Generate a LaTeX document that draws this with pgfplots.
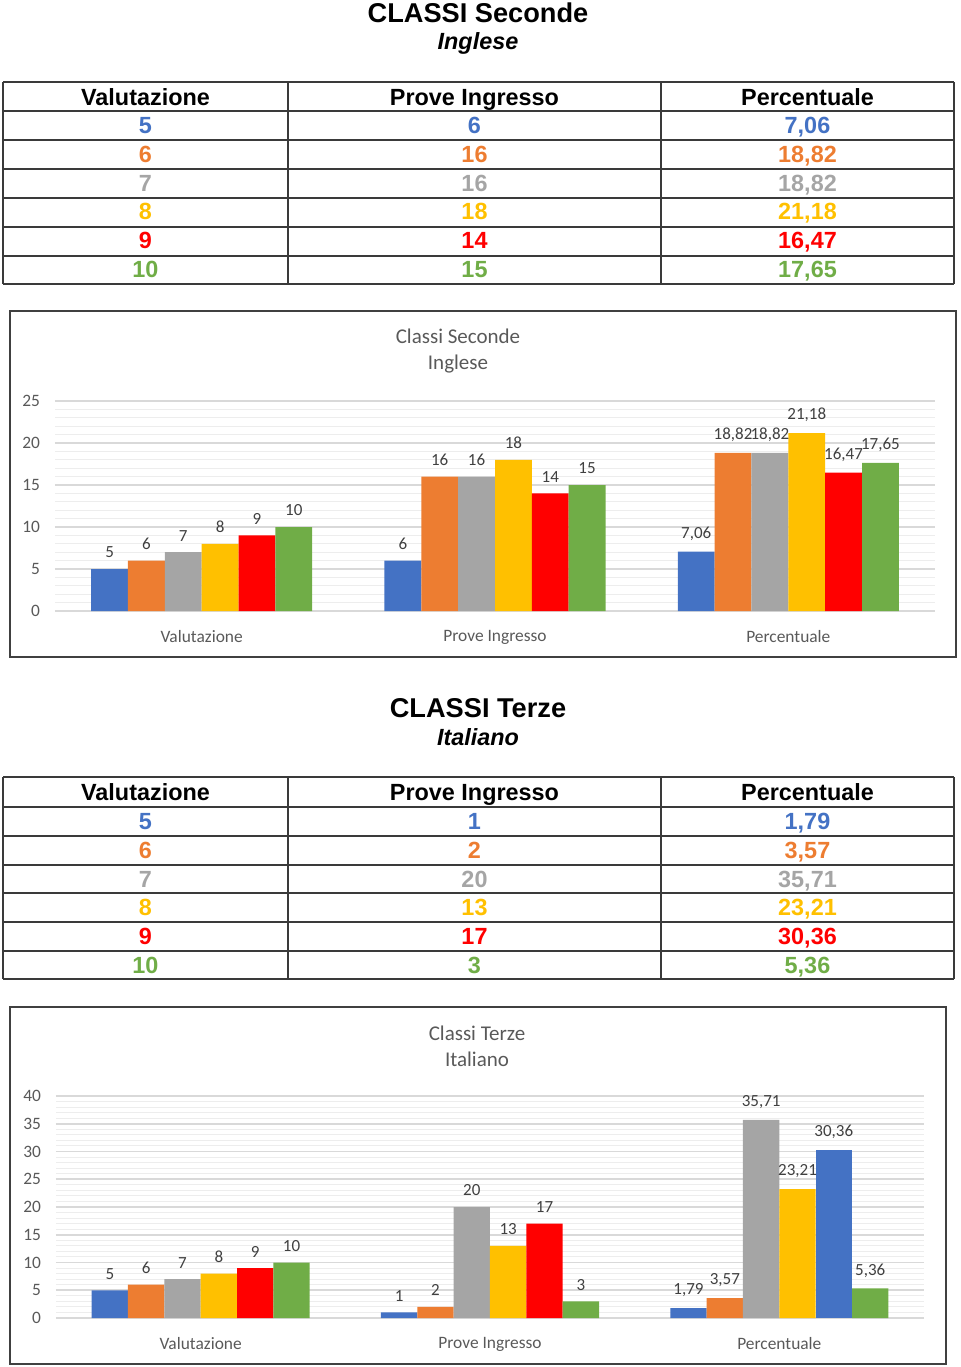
\documentclass[border=0pt]{standalone}
\usepackage{pgfplots}
\pgfplotsset{compat=1.18}
\usepackage{fontspec}
\setmainfont{Carlito}
\newfontfamily\arialf{Liberation Sans}
\definecolor{cB}{HTML}{4472C4}
\definecolor{cO}{HTML}{ED7D31}
\definecolor{cG}{HTML}{A5A5A5}
\definecolor{cY}{HTML}{FFC000}
\definecolor{cR}{HTML}{FF0000}
\definecolor{cV}{HTML}{70AD47}
\definecolor{txt}{HTML}{595959}
\definecolor{lbl}{HTML}{404040}
\definecolor{gridc}{HTML}{D9D9D9}
\definecolor{mgridc}{HTML}{EDEDED}
\definecolor{tline}{HTML}{3A3A3A}

\pgfplotsset{
  barchart/.style={
    scale only axis, ybar, bar width=#1, enlargelimits=false,
    xmin=-0.5, xmax=2.5, ymin=0,
    xtick={0,1,2}, xticklabels={Valutazione,Prove Ingresso,Percentuale},
    axis line style={draw=none},
    major tick length=0pt, minor tick length=0pt,
    ymajorgrids, yminorgrids, minor y tick num=4,
    major grid style={color=gridc, line width=0.8pt},
    minor grid style={color=mgridc, line width=0.5pt},
    tick label style={font=\fontsize{8.7}{10}\selectfont, color=txt},
    yticklabel style={xshift=-4pt},
    xticklabel style={yshift=-6pt},
    ytick distance=5,
    nodes near coords,
    every node near coord/.append style={font=\fontsize{8.5}{10}\selectfont, color=lbl, anchor=south, yshift=2pt},
    /pgf/number format/.cd, use comma, fixed, precision=2, 1000 sep={}, assume math mode=true,
  },
}

\newcommand{\tcell}[4]{\node[anchor=base, text=#3, font=\arialf\bfseries\fontsize{11.7}{14}\selectfont] at (#1,#2) {#4};}

\begin{document}
\begin{tikzpicture}
\begin{scope}[x=0.5pt,y=-0.5pt]
\useasboundingbox (0,0) rectangle (960,1367);
% ---------- Titles 1
\node[anchor=base, font=\arialf\bfseries\fontsize{13.6}{16}\selectfont] at (478,22.7) {CLASSI Seconde};
\node[anchor=base, font=\arialf\bfseries\itshape\fontsize{11.7}{14}\selectfont] at (478,49.4) {Inglese};
% ---------- Table 1
\foreach \yy in {82,111,140,169,197.5,226.5,255.5,284} \draw[tline, line width=1pt] (3,\yy) -- (954,\yy);
\foreach \xx in {3,288,661,954} \draw[tline, line width=1pt] (\xx,82) -- (\xx,284);
\tcell{145.5}{105.4}{black}{Valutazione}
\tcell{474.5}{105.4}{black}{Prove Ingresso}
\tcell{807.5}{105.4}{black}{Percentuale}
\tcell{145.5}{133.9}{cB}{5}\tcell{474.5}{133.9}{cB}{6}\tcell{807.5}{133.9}{cB}{7,06}
\tcell{145.5}{162.9}{cO}{6}\tcell{474.5}{162.9}{cO}{16}\tcell{807.5}{162.9}{cO}{18,82}
\tcell{145.5}{191.4}{cG}{7}\tcell{474.5}{191.4}{cG}{16}\tcell{807.5}{191.4}{cG}{18,82}
\tcell{145.5}{219.9}{cY}{8}\tcell{474.5}{219.9}{cY}{18}\tcell{807.5}{219.9}{cY}{21,18}
\tcell{145.5}{248.9}{cR}{9}\tcell{474.5}{248.9}{cR}{14}\tcell{807.5}{248.9}{cR}{16,47}
\tcell{145.5}{277.4}{cV}{10}\tcell{474.5}{277.4}{cV}{15}\tcell{807.5}{277.4}{cV}{17,65}
% ---------- Chart 1 frame and title
\draw[black!75, line width=0.75pt] (10,311) rectangle (956,657);
\node[anchor=base, text=txt, font=\fontsize{10.5}{12}\selectfont] at (458,343.8) {Classi Seconde};
\node[anchor=base, text=txt, font=\fontsize{10.5}{12}\selectfont] at (458,369.8) {Inglese};
% ---------- Titles 2
\node[anchor=base, font=\arialf\bfseries\fontsize{13.6}{16}\selectfont] at (478,717.7) {CLASSI Terze};
\node[anchor=base, font=\arialf\bfseries\itshape\fontsize{11.7}{14}\selectfont] at (478,745.4) {Italiano};
% ---------- Table 2
\foreach \yy in {777,806.5,835.5,864.5,893,922,950.5,979} \draw[tline, line width=1pt] (3,\yy) -- (954,\yy);
\foreach \xx in {3,288,661,954} \draw[tline, line width=1pt] (\xx,777) -- (\xx,979);
\tcell{145.5}{800.4}{black}{Valutazione}
\tcell{474.5}{800.4}{black}{Prove Ingresso}
\tcell{807.5}{800.4}{black}{Percentuale}
\tcell{145.5}{829.4}{cB}{5}\tcell{474.5}{829.4}{cB}{1}\tcell{807.5}{829.4}{cB}{1,79}
\tcell{145.5}{858.4}{cO}{6}\tcell{474.5}{858.4}{cO}{2}\tcell{807.5}{858.4}{cO}{3,57}
\tcell{145.5}{887.4}{cG}{7}\tcell{474.5}{887.4}{cG}{20}\tcell{807.5}{887.4}{cG}{35,71}
\tcell{145.5}{915.9}{cY}{8}\tcell{474.5}{915.9}{cY}{13}\tcell{807.5}{915.9}{cY}{23,21}
\tcell{145.5}{944.4}{cR}{9}\tcell{474.5}{944.4}{cR}{17}\tcell{807.5}{944.4}{cR}{30,36}
\tcell{145.5}{973.4}{cV}{10}\tcell{474.5}{973.4}{cV}{3}\tcell{807.5}{973.4}{cV}{5,36}
% ---------- Chart 2 frame and title
\draw[black!75, line width=0.75pt] (10,1007) rectangle (946,1364);
\node[anchor=base, text=txt, font=\fontsize{10.5}{12}\selectfont] at (477,1040.8) {Classi Terze};
\node[anchor=base, text=txt, font=\fontsize{10.5}{12}\selectfont] at (477,1066.8) {Italiano};
\end{scope}

% ---------- Chart 1
\begin{axis}[barchart=18.42pt, at={(27.5pt,-305.5pt)}, anchor=south west,
  width=440pt, height=105pt, ymax=25]
\addplot[fill=cB, draw=none, bar shift=-46.05pt] coordinates {(0,5) (1,6) (2,7.06)};
\addplot[fill=cO, draw=none, bar shift=-27.63pt] coordinates {(0,6) (1,16) (2,18.82)};
\addplot[fill=cG, draw=none, bar shift=-9.21pt] coordinates {(0,7) (1,16) (2,18.82)};
\addplot[fill=cY, draw=none, bar shift=9.21pt] coordinates {(0,8) (1,18) (2,21.18)};
\addplot[fill=cR, draw=none, bar shift=27.63pt] coordinates {(0,9) (1,14) (2,16.47)};
\addplot[fill=cV, draw=none, bar shift=46.05pt] coordinates {(0,10) (1,15) (2,17.65)};
\end{axis}

% ---------- Chart 2
\begin{axis}[barchart=18.17pt, at={(28pt,-659pt)}, anchor=south west,
  width=434pt, height=111pt, ymax=40]
\addplot[fill=cB, draw=none, bar shift=-45.425pt] coordinates {(0,5) (1,1) (2,1.79)};
\addplot[fill=cO, draw=none, bar shift=-27.255pt] coordinates {(0,6) (1,2) (2,3.57)};
\addplot[fill=cG, draw=none, bar shift=-9.085pt] coordinates {(0,7) (1,20) (2,35.71)};
\addplot[fill=cY, draw=none, bar shift=9.085pt] coordinates {(0,8) (1,13) (2,23.21)};
\addplot[fill=cR, draw=none, bar shift=27.255pt] coordinates {(0,9) (1,17)};
\addplot[fill=cB, draw=none, bar shift=27.255pt] coordinates {(2,30.36)};
\addplot[fill=cV, draw=none, bar shift=45.425pt] coordinates {(0,10) (1,3) (2,5.36)};
\end{axis}
\end{tikzpicture}
\end{document}
